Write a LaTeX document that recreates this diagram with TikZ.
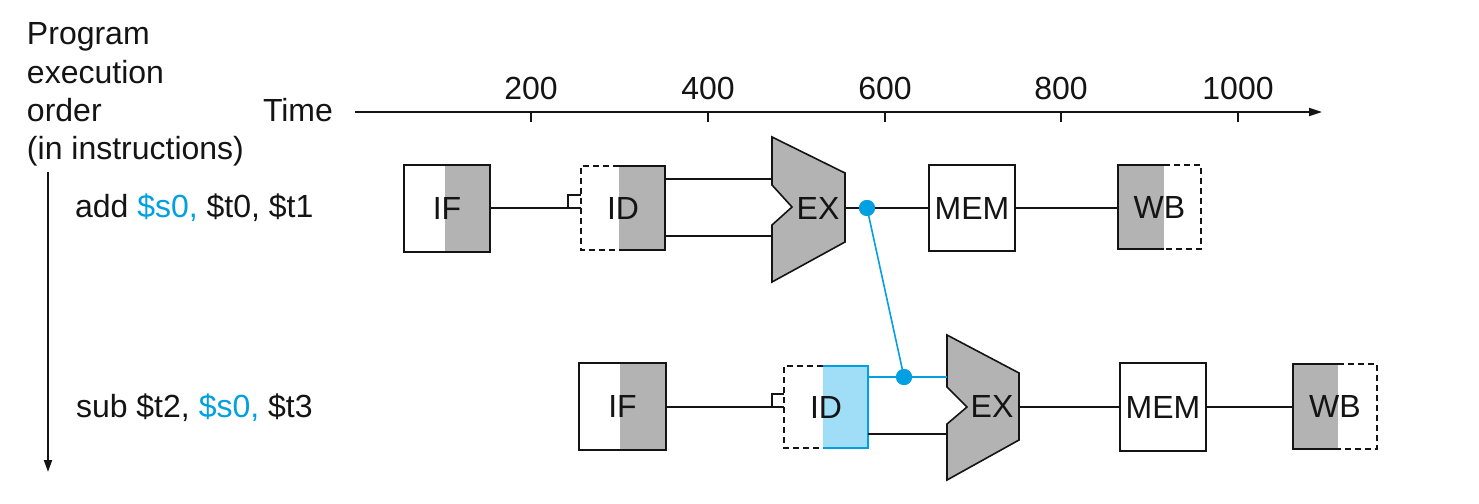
\documentclass[tikz,border=0pt]{standalone}
\usepackage{fontspec}
\setmainfont{Liberation Sans}
\usetikzlibrary{arrows.meta,backgrounds}

\definecolor{stagegray}{RGB}{179,179,179}
\definecolor{fwdblue}{RGB}{0,160,226}
\definecolor{fwdfill}{RGB}{160,221,246}
\definecolor{ink}{RGB}{20,20,20}

\tikzset{
  every node/.style={inner sep=0pt, outer sep=0pt, text=ink},
  stage/.style={font=\fontsize{32}{38}\selectfont},
  lbl/.style={font=\fontsize{32}{38}\selectfont, anchor=base west},
  boxline/.style={draw=ink, line width=2pt},
  dashline/.style={draw=ink, line width=2pt, dash pattern=on 6pt off 4pt},
  wire/.style={draw=ink, line width=1.5pt},
  fwd/.style={draw=fwdblue, line width=1.6pt},
  dot/.style={circle, fill=fwdblue, minimum size=16pt},
  axisline/.style={draw=ink, line width=2pt},
  alu/.style={fill=stagegray, draw=ink, line width=1.6pt, line join=miter},
}

\begin{document}
\begin{tikzpicture}[x=1pt, y=-1pt]
\useasboundingbox (0,0) rectangle (1479,503);

% ---------- left-hand labels ----------
\node[lbl] (prog1) at (27,45)  {Program};
\node[lbl] (prog2) at (27,83)  {execution};
\node[lbl] (prog3) at (27,121) {order};
\node[lbl] (prog4) at (27,159) {(in instructions)};
\node[lbl] (time)  at (263,121) {Time};

\coordinate (ordtop) at (48,172);
\coordinate (ordbot) at (48,472);
\draw[axisline, -{Triangle[length=12pt,width=8pt]}] (ordtop) -- (ordbot);

\node[lbl] (instr1) at (75,217) {add \textcolor{fwdblue}{\$s0,} \$t0, \$t1};
\node[lbl] (instr2) at (76,417) {sub \$t2, \textcolor{fwdblue}{\$s0,} \$t3};

% ---------- time axis ----------
\coordinate (axstart) at (355,112);
\coordinate (axend) at (1322,112);
\draw[axisline, -{Triangle[length=13pt,width=8pt]}] (axstart) -- (axend);
\foreach \x/\t in {531/200, 708/400, 885/600, 1061/800, 1238/1000}{
  \coordinate (tick\t) at (\x,112);
  \draw[axisline] (tick\t) -- ++(0,10);
  \node[font=\fontsize{32}{38}\selectfont, anchor=base] (tl\t) at (\x,99) {\t};
}

% ---------- first instruction ----------
\node[stage, minimum width=86, minimum height=87] (if1)  at (447,208.5) {IF};
\node[stage, minimum width=84, minimum height=84] (id1)  at (623,208)   {ID};
\node[stage, minimum width=86, minimum height=86] (mem1) at (972,208)   {MEM};
\node[stage, minimum width=83, minimum height=84] (wb1)  at (1159.5,207) {WB};

\coordinate (if1s) at ([xshift=-2pt]if1.north);
\coordinate (id1s) at ([xshift=38pt]id1.north west);
\coordinate (wb1s) at ([xshift=46pt]wb1.north west);

\draw[alu] (772,137) -- (845,173) -- (845,242) -- (772,282) -- (772,225)
           -- (792,207) -- (772,185) -- cycle;
\node[stage] (ex1) at (818,208) {EX};
\coordinate (ex1in1) at (772,179);
\coordinate (ex1in2) at (772,236);
\coordinate (ex1out) at (845,208);

% ---------- second instruction ----------
\node[stage, minimum width=87, minimum height=87] (if2)  at (622.5,406.5) {IF};
\node[stage, minimum width=84, minimum height=82] (id2)  at (826,407)     {ID};
\node[stage, minimum width=86, minimum height=88] (mem2) at (1163,407)    {MEM};
\node[stage, minimum width=84, minimum height=85] (wb2)  at (1335,406.5)  {WB};

\coordinate (if2s) at ([xshift=-2.5pt]if2.north);
\coordinate (id2s) at ([xshift=39pt]id2.north west);
\coordinate (wb2s) at ([xshift=45pt]wb2.north west);

\draw[alu] (947,335) -- (1019,373) -- (1019,440) -- (947,480) -- (947,424)
           -- (967,407) -- (947,387) -- cycle;
\node[stage] (ex2) at (992,406) {EX};
\coordinate (ex2in1) at (947,377);
\coordinate (ex2in2) at (947,434);
\coordinate (ex2out) at (1019,407);

% ---------- shading of the used halves ----------
\begin{pgfonlayer}{background}
  \fill[white] (0,0) rectangle (1479,503);
  \fill[stagegray] (if1s) rectangle (if1.south east);
  \fill[stagegray] (id1s) rectangle (id1.south east);
  \fill[stagegray] (wb1.north west) rectangle (wb1s |- wb1.south);
  \fill[stagegray] (if2s) rectangle (if2.south east);
  \fill[fwdfill]   (id2s) rectangle (id2.south east);
  \fill[stagegray] (wb2.north west) rectangle (wb2s |- wb2.south);
\end{pgfonlayer}

% ---------- stage outlines ----------
\draw[boxline] (if1.north west) rectangle (if1.south east);
\draw[dashline] (id1s) -- (id1.north west) -- (id1.south west) -- (id1s |- id1.south);
\draw[boxline] (id1s) -- (id1.north east) -- (id1.south east) -- (id1s |- id1.south);
\draw[boxline] (mem1.north west) rectangle (mem1.south east);
\draw[boxline] (wb1s) -- (wb1.north west) -- (wb1.south west) -- (wb1s |- wb1.south);
\draw[dashline] (wb1s) -- (wb1.north east) -- (wb1.south east) -- (wb1s |- wb1.south);

\draw[boxline] (if2.north west) rectangle (if2.south east);
\draw[dashline] (id2s) -- (id2.north west) -- (id2.south west) -- (id2s |- id2.south);
\draw[boxline, draw=fwdblue] (id2s) -- (id2.north east) -- (id2.south east) -- (id2s |- id2.south);
\draw[boxline] (mem2.north west) rectangle (mem2.south east);
\draw[boxline] (wb2s) -- (wb2.north west) -- (wb2.south west) -- (wb2s |- wb2.south);
\draw[dashline] (wb2s) -- (wb2.north east) -- (wb2.south east) -- (wb2s |- wb2.south);

% ---------- datapath wires, first instruction ----------
\draw[wire] (if1.east |- id1.west) -- (id1.west);
\draw[wire] ([xshift=-13pt]id1.west) -- ++(0,-13) -- (id1.west |- 0,195);
\draw[wire] (id1.east |- ex1in1) -- (ex1in1);
\draw[wire] (id1.east |- ex1in2) -- (ex1in2);
\draw[wire] (ex1out) -- (mem1.west |- ex1out);
\draw[wire] (mem1.east) -- (wb1.west |- mem1.east);

% ---------- datapath wires, second instruction ----------
\draw[wire] (if2.east |- id2.west) -- (id2.west);
\draw[wire] ([xshift=-12pt]id2.west) -- ++(0,-13) -- (id2.west |- 0,394);
\draw[wire] (id2.east |- ex2in2) -- (ex2in2);
\draw[wire] (ex2out) -- (mem2.west |- ex2out);
\draw[wire] (mem2.east) -- (wb2.west |- mem2.east);

% ---------- forwarding of $s0 ----------
\draw[fwd] (id2.east |- ex2in1) -- (ex2in1);
\node[dot] (fwdsrc) at (867,208) {};
\node[dot] (fwddst) at (904,377) {};
\draw[fwd] (fwdsrc.center) -- (fwddst.center);
\node[dot] at (fwdsrc) {};
\node[dot] at (fwddst) {};
\end{tikzpicture}
\end{document}
